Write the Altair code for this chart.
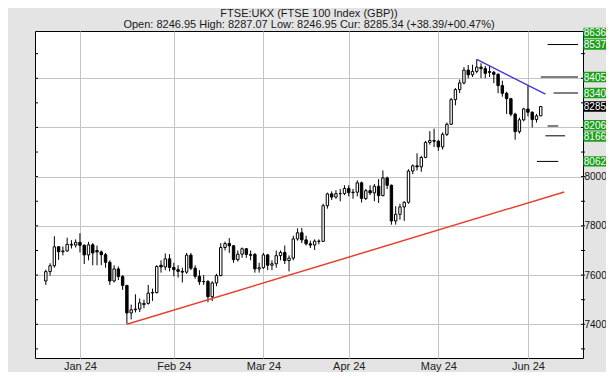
import altair as alt
import pandas as pd

# ---------------- data ----------------
dates = [
    "2023-12-18", "2023-12-19", "2023-12-20", "2023-12-21", "2023-12-22", "2023-12-27", "2023-12-28", "2023-12-29",
    "2024-01-02", "2024-01-03", "2024-01-04", "2024-01-05", "2024-01-08", "2024-01-09", "2024-01-10", "2024-01-11",
    "2024-01-12", "2024-01-15", "2024-01-16", "2024-01-17", "2024-01-18", "2024-01-19", "2024-01-22", "2024-01-23",
    "2024-01-24", "2024-01-25", "2024-01-26", "2024-01-29", "2024-01-30", "2024-01-31",
    "2024-02-01", "2024-02-02", "2024-02-05", "2024-02-06", "2024-02-07", "2024-02-08", "2024-02-09", "2024-02-12",
    "2024-02-13", "2024-02-14", "2024-02-15", "2024-02-16", "2024-02-19", "2024-02-20", "2024-02-21", "2024-02-22",
    "2024-02-23", "2024-02-26", "2024-02-27", "2024-02-28", "2024-02-29",
    "2024-03-01", "2024-03-04", "2024-03-05", "2024-03-06", "2024-03-07", "2024-03-08", "2024-03-11", "2024-03-12",
    "2024-03-13", "2024-03-14", "2024-03-15", "2024-03-18", "2024-03-19", "2024-03-20", "2024-03-21", "2024-03-22",
    "2024-03-25", "2024-03-26", "2024-03-27", "2024-03-28",
    "2024-04-02", "2024-04-03", "2024-04-04", "2024-04-05", "2024-04-08", "2024-04-09", "2024-04-10", "2024-04-11",
    "2024-04-12", "2024-04-15", "2024-04-16", "2024-04-17", "2024-04-18", "2024-04-19", "2024-04-22", "2024-04-23",
    "2024-04-24", "2024-04-25", "2024-04-26", "2024-04-29", "2024-04-30",
    "2024-05-01", "2024-05-02", "2024-05-03", "2024-05-07", "2024-05-08", "2024-05-09", "2024-05-10", "2024-05-13",
    "2024-05-14", "2024-05-15", "2024-05-16", "2024-05-17", "2024-05-20", "2024-05-21", "2024-05-22", "2024-05-23",
    "2024-05-24", "2024-05-28", "2024-05-29", "2024-05-30", "2024-05-31",
    "2024-06-03", "2024-06-04", "2024-06-05", "2024-06-06",
]

opens = [
    7576, 7614, 7638, 7715, 7695, 7698, 7725, 7722,
    7733, 7721, 7682, 7723, 7700, 7694, 7683, 7652, 7576, 7625, 7594, 7558, 7446, 7459, 7462, 7480, 7485, 7527,
    7529, 7640, 7633, 7666,
    7631, 7622, 7615, 7612, 7681, 7628, 7595, 7573, 7574, 7512, 7568, 7598, 7712, 7728, 7719, 7663, 7685, 7707,
    7680, 7684, 7625,
    7630, 7682, 7640, 7646, 7679, 7692, 7659, 7669, 7747, 7772, 7743, 7727, 7722, 7738, 7737, 7882, 7930, 7917,
    7931, 7931,
    7952, 7935, 7937, 7975, 7911, 7943, 7934, 7961, 7923, 7995, 7965, 7820, 7847, 7877, 7896, 8023, 8044, 8040,
    8078, 8139, 8147,
    8144, 8121, 8172, 8213, 8313, 8354, 8381, 8433, 8414, 8428, 8445, 8439, 8427, 8424, 8416, 8370, 8339, 8317,
    8254, 8183, 8231,
    8275, 8262, 8232, 8247,
]
highs = [
    7622, 7648, 7758, 7718, 7716, 7752, 7742, 7745,
    7770, 7725, 7735, 7730, 7720, 7700, 7690, 7660, 7640, 7635, 7600, 7560, 7480, 7522, 7505, 7500, 7560, 7545,
    7640, 7660, 7688, 7685,
    7650, 7640, 7630, 7690, 7690, 7640, 7620, 7600, 7580, 7575, 7605, 7730, 7736, 7750, 7722, 7700, 7712, 7710,
    7700, 7690, 7650,
    7690, 7685, 7660, 7700, 7700, 7720, 7680, 7760, 7790, 7792, 7760, 7740, 7745, 7745, 7890, 7935, 7940, 7945,
    7950, 7965,
    7965, 7950, 7985, 7980, 7950, 7965, 7970, 7990, 8025, 8000, 7968, 7880, 7890, 7900, 8030, 8050, 8095, 8085,
    8145, 8185, 8195,
    8150, 8180, 8220, 8320, 8360, 8395, 8445, 8454, 8455, 8477, 8461, 8450, 8450, 8430, 8420, 8390, 8345, 8320,
    8260, 8240, 8280,
    8372, 8265, 8255, 8287,
]
lows = [
    7560, 7598, 7630, 7662, 7680, 7695, 7708, 7712,
    7692, 7645, 7660, 7640, 7640, 7640, 7630, 7560, 7570, 7580, 7540, 7402, 7420, 7448, 7450, 7465, 7480, 7495,
    7525, 7610, 7620, 7615,
    7595, 7590, 7570, 7605, 7620, 7585, 7560, 7560, 7490, 7495, 7555, 7595, 7700, 7690, 7650, 7655, 7670, 7670,
    7660, 7610, 7610,
    7625, 7620, 7620, 7630, 7660, 7645, 7615, 7660, 7740, 7730, 7720, 7710, 7702, 7725, 7735, 7870, 7905, 7910,
    7900, 7925,
    7920, 7910, 7920, 7895, 7905, 7925, 7900, 7893, 7920, 7950, 7805, 7805, 7825, 7820, 7890, 8010, 8025, 8020,
    8075, 8130, 8120,
    8105, 8110, 8165, 8210, 8290, 8340, 8375, 8400, 8405, 8420, 8401, 8400, 8405, 8380, 8339, 8325, 8255, 8245,
    8150, 8175, 8225,
    8245, 8200, 8220, 8247,
]
closes = [
    7614, 7638, 7715, 7695, 7698, 7725, 7722, 7733,
    7721, 7682, 7723, 7690, 7694, 7683, 7652, 7576, 7625, 7594, 7558, 7446, 7459, 7462, 7487, 7485, 7527, 7529,
    7635, 7633, 7666, 7631,
    7622, 7615, 7612, 7681, 7628, 7595, 7573, 7574, 7512, 7568, 7598, 7712, 7728, 7719, 7663, 7685, 7707, 7684,
    7684, 7625, 7630,
    7682, 7640, 7646, 7679, 7692, 7659, 7669, 7747, 7772, 7743, 7727, 7722, 7738, 7737, 7882, 7930, 7917, 7931,
    7931, 7952,
    7935, 7937, 7975, 7911, 7943, 7934, 7961, 7923, 7995, 7965, 7820, 7847, 7877, 7896, 8023, 8044, 8040, 8078,
    8139, 8147, 8144,
    8121, 8172, 8213, 8313, 8354, 8381, 8433, 8414, 8428, 8445, 8439, 8420, 8424, 8416, 8370, 8339, 8317, 8254,
    8183, 8231, 8275,
    8262, 8232, 8247, 8285,
]

month_labels = ["Jan 24", "Feb 24", "Mar 24", "Apr 24", "May 24", "Jun 24"]
month_starts = ["2024-01-02", "2024-02-01", "2024-03-01", "2024-04-02", "2024-05-01", "2024-06-03"]

# trend lines (trading-day index, price)
support_x = [11, 113.5]
support_y = [7400, 7938]
resist_x = [93, 109.1]
resist_y = [8477, 8335]

# target levels drawn as short rules near the right edge
target_levels = [8537, 8405, 8340, 8206, 8166, 8062]
target_from = [109.6, 108.0, 111.0, 109.6, 109.1, 107.1]
target_to = [116.73, 116.73, 116.73, 112.1, 113.7, 112.1]

# price tags on the right axis
tag_values = [8636, 8537, 8405, 8340, 8285, 8206, 8166, 8062]
tag_kind = ["target", "target", "target", "target", "current", "target", "target", "target"]

y_label_values = [7400, 7600, 7800, 8000, 8200, 8400]
minor_tick_values = [7300, 7400, 7500, 7600, 7700, 7800, 7900, 8000, 8100, 8200, 8300, 8400, 8500]

title_text = "FTSE:UKX (FTSE 100 Index (GBP))"
subtitle_text = "Open: 8246.95 High: 8287.07 Low: 8246.95 Cur: 8285.34 (+38.39/+00.47%)"

# ---------------- frames ----------------
assert len(dates) == len(opens) == len(highs) == len(lows) == len(closes)
zero = dates.index("2024-01-02")
idx = [i - zero for i in range(len(dates))]
df = pd.DataFrame({
    "date": dates, "idx": idx, "open": opens, "high": highs, "low": lows, "close": closes,
})
month_idx = [dates.index(d) - zero for d in month_starts]

support_df = pd.DataFrame({"x": support_x, "y": support_y})
resist_df = pd.DataFrame({"x": resist_x, "y": resist_y})
target_df = pd.DataFrame({"level": target_levels, "x0": target_from, "x1": target_to})

Y_TOP = 8592
Y_BOTTOM = 7263


def tag_position(v):
    # keep tags inside the plot and spread the two crowded ones slightly apart
    p = min(v, Y_TOP - 8)
    if v == 8206:
        p += 3
    if v == 8166:
        p -= 3
    return p


tag_pos = [tag_position(v) for v in tag_values]
tag_df = pd.DataFrame({
    "label": [str(v) for v in tag_values],
    "pos": tag_pos,
    "lo": [p - 21 for p in tag_pos],
    "hi": [p + 21 for p in tag_pos],
    "kind": tag_kind,
})
tick_df = pd.DataFrame({"v": minor_tick_values})

# ---------------- chart ----------------
W, H = 548, 327
FONT = "Liberation Sans"
xs = alt.Scale(domain=[-9.365, 116.73], nice=False, zero=False)
ys = alt.Scale(domain=[Y_BOTTOM, Y_TOP], nice=False, zero=False)

x_label_expr = " : ".join(f"datum.value == {i} ? '{lab}'" for i, lab in zip(month_idx, month_labels)) + " : ''"

x_axis = alt.Axis(
    values=month_idx, labelExpr=x_label_expr, grid=True, gridColor="#c4c4c4", gridWidth=1,
    domain=False, ticks=False, labelFont=FONT, labelFontSize=11, labelColor="#222222",
    labelPadding=2, title=None,
)
y_axis = alt.Axis(
    orient="right", values=y_label_values,
    labelExpr="datum.value <= 8000 ? format(datum.value, 'd') : ''",
    grid=True, gridColor="#c4c4c4", gridWidth=1, domain=False, ticks=False,
    labelFont=FONT, labelFontSize=10, labelColor="#111111", labelPadding=1, title=None,
)


def X(field):
    return alt.X(field, scale=xs, axis=x_axis)


def Y(field):
    return alt.Y(field, scale=ys, axis=y_axis)


wicks = alt.Chart(df).mark_rule(color="black", strokeWidth=1).encode(
    x=X("idx:Q"), y=Y("low:Q"), y2="high:Q",
)
bodies = alt.Chart(df).mark_bar(size=2.4, stroke="black", strokeWidth=1).encode(
    x=X("idx:Q"), y=Y("open:Q"), y2="close:Q",
    fill=alt.condition("datum.close >= datum.open", alt.value("white"), alt.value("black")),
)

support = alt.Chart(support_df).mark_line(color="#e8402e", strokeWidth=1.5).encode(x=X("x:Q"), y=Y("y:Q"))
resist = alt.Chart(resist_df).mark_line(color="#3a3ad2", strokeWidth=1.4).encode(x=X("x:Q"), y=Y("y:Q"))

targets = alt.Chart(target_df).mark_rule(color="black", strokeWidth=1).encode(
    x=X("x0:Q"), x2="x1:Q", y=Y("level:Q")
)

left_ticks = alt.Chart(tick_df).mark_rule(color="black", strokeWidth=1).encode(
    x=alt.value(0), x2=alt.value(3), y=Y("v:Q")
)
right_ticks = alt.Chart(tick_df).mark_rule(color="black", strokeWidth=1).encode(
    x=alt.value(W - 2), x2=alt.value(W + 2), y=Y("v:Q")
)

tag_boxes = alt.Chart(tag_df).mark_rect().encode(
    x=alt.value(W + 0.5), x2=alt.value(W + 34),
    y=Y("lo:Q"), y2="hi:Q",
    fill=alt.condition("datum.kind == 'current'", alt.value("#000000"), alt.value("#1c9f1c")),
)
tag_text = alt.Chart(tag_df).mark_text(
    align="left", baseline="middle", font=FONT, fontSize=10, color="white", dy=0.5
).encode(x=alt.value(W + 0.8), y=Y("pos:Q"), text="label:N")

title = alt.Chart(pd.DataFrame({"t": [title_text]})).mark_text(
    align="center", baseline="alphabetic", font=FONT, fontSize=11, color="#1a1a1a"
).encode(x=alt.value(W / 2), y=alt.value(-14.5), text="t:N")
subtitle = alt.Chart(pd.DataFrame({"t": [subtitle_text]})).mark_text(
    align="center", baseline="alphabetic", font=FONT, fontSize=11, color="#1a1a1a"
).encode(x=alt.value(W / 2), y=alt.value(-3.5), text="t:N")

chart = alt.layer(
    wicks, left_ticks, right_ticks, support, resist, targets, bodies, tag_boxes, tag_text, title, subtitle
).properties(
    width=W, height=H, background="#e4e4e4",
    padding={"left": 27, "top": 23, "right": 23, "bottom": 14},
    autosize=alt.AutoSizeParams(type="none"),
).configure_view(stroke="black", strokeWidth=1, fill="white")

chart.save("out.html", embed_options={"renderer": "svg", "actions": False})
